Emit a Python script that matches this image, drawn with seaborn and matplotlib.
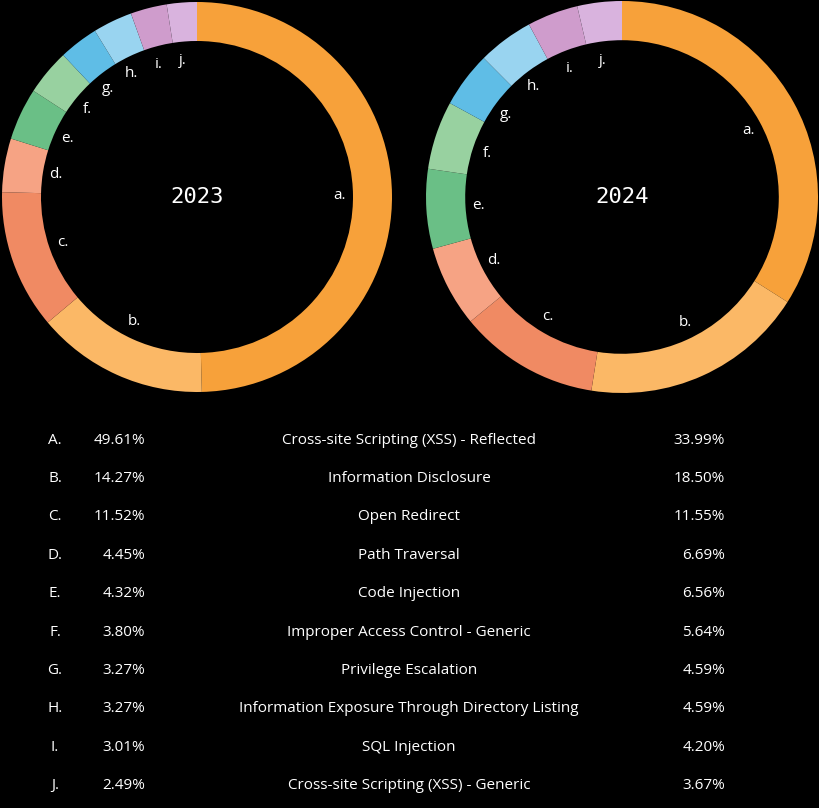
import matplotlib.pyplot as plt
import seaborn as sns

# Set aesthetic style
sns.set_theme(style="dark")
plt.rcParams['font.family'] = ['Open Sans', 'DejaVu Sans']

letters = ['a.', 'b.', 'c.', 'd.', 'e.', 'f.', 'g.', 'h.', 'i.', 'j.']
share_2023 = [49.61, 14.27, 11.52, 4.45, 4.32, 3.80, 3.27, 3.27, 3.01, 2.49]
share_2024 = [33.99, 18.50, 11.55, 6.69, 6.56, 5.64, 4.59, 4.59, 4.20, 3.67]
weaknesses = ['Cross-site Scripting (XSS) - Reflected', 'Information Disclosure',
              'Open Redirect', 'Path Traversal', 'Code Injection',
              'Improper Access Control - Generic', 'Privilege Escalation',
              'Information Exposure Through Directory Listing', 'SQL Injection',
              'Cross-site Scripting (XSS) - Generic']
palette = sns.color_palette(['#f7a13a', '#fbb866', '#f08a63', '#f6a384', '#6abf86',
                             '#98d1a0', '#5fbde6', '#99d4f0', '#cf9ccc', '#d9b3de'])

W, H = 820, 808
fig = plt.figure(figsize=(W / 100, H / 100), dpi=100, facecolor='black')

def donut(cx, cy, r, values, year):
    ax = fig.add_axes([(cx - r) / W, (H - cy - r) / H, 2 * r / W, 2 * r / H])
    ax.set_facecolor('black')
    ax.pie(values, labels=letters, colors=palette, startangle=90, counterclock=False,
           labeldistance=0.7, wedgeprops=dict(width=0.2, edgecolor='none'),
           textprops=dict(color='white', fontsize=11))
    ax.text(0, 0, year, ha='center', va='center', color='white', fontsize=16,
            family='DejaVu Sans Mono')
    ax.set_xlim(-1, 1)
    ax.set_ylim(-1, 1)
    ax.axis('off')

donut(197, 197, 195, share_2023, '2023')
donut(622, 197, 196, share_2024, '2024')

# Table below the donuts
for i, name in enumerate(weaknesses):
    y = 1 - (440 + i * 38.4) / H
    kw = dict(color='white', fontsize=11, va='center')
    fig.text(55 / W, y, letters[i].upper(), ha='center', **kw)
    fig.text(145 / W, y, f'{share_2023[i]:.2f}%', ha='right', **kw)
    fig.text(409 / W, y, name, ha='center', **kw)
    fig.text(725 / W, y, f'{share_2024[i]:.2f}%', ha='right', **kw)

fig.savefig('out.png', dpi=100, facecolor='black')
